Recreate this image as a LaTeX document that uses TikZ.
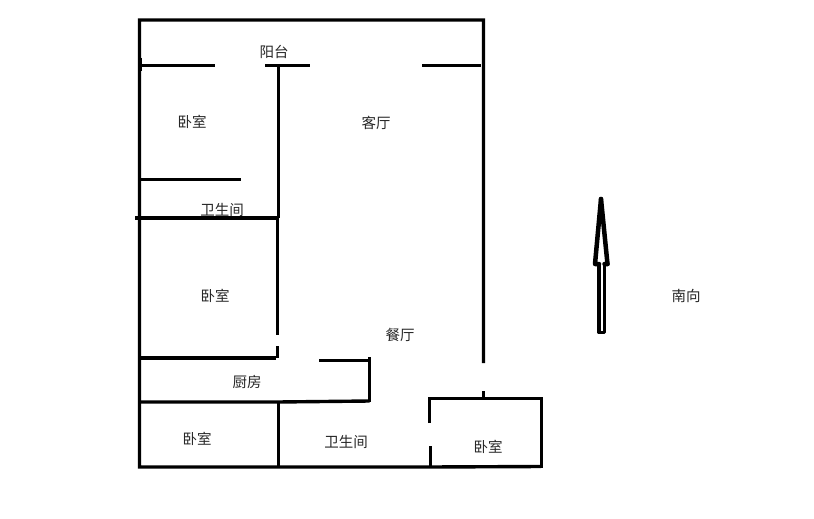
\documentclass[tikz,border=0pt]{standalone}
\usepackage{fontspec}
\newfontfamily\cjk{Noto Sans CJK SC}
\tikzset{wall/.style={draw=black,line width=3.4pt,line cap=butt},
  room/.style={font=\cjk\fontsize{14.5pt}{14.5pt}\selectfont,text=black!85,inner sep=0pt}}
\begin{document}
\begin{tikzpicture}[x=1pt,y=-1pt]
\useasboundingbox[fill=white] (0,0) rectangle (814,519);
% outer walls
\draw[wall,line join=miter] (483.5,363) -- (483.5,20) -- (139.5,20) -- (139.5,467) -- (430,467) -- (541,466.5);
\draw[wall] (483.5,391) -- (483.5,398);
% balcony line
\draw[wall] (139,65.5) -- (215,65.5);
\draw[wall] (265,65.5) -- (310,65.5);
\draw[wall] (422,65.5) -- (481,65.5);
\draw[line width=4.5pt] (140,58) -- (140,71);
% inner vertical
\draw[wall] (278.5,65) -- (278.5,218);
\draw[wall] (277.5,217) -- (277.5,335);
\draw[wall] (277.5,346) -- (277.5,358);
% left rooms
\draw[wall] (139,179.5) -- (241,179.5);
\draw[wall] (135,218) -- (279,218);
\draw[wall] (139,358) -- (276,358);
\draw[wall] (139,402) -- (278,402) -- (369.5,401);
\draw[wall] (319,360.5) -- (369.5,360.5);
\draw[wall] (369.5,357) -- (369.5,402);
\draw[wall] (278.5,401) -- (278.5,467);
% lower right room
\draw[wall,line join=miter] (429.5,423) -- (429.5,398.5) -- (541.5,398.5) -- (541.5,468);
\draw[wall] (430.5,446) -- (430.5,467);
% arrow
\draw[line width=3.5pt,line join=round,line cap=round] (599,264.5) -- (599,332.5) -- (604.5,332.5) -- (604.5,264.5);
\draw[line width=4.5pt,line join=round,line cap=round] (601,199) -- (595,264) -- (599,264) (604.5,264) -- (607.5,264) -- cycle;
\draw[line width=4.5pt,line cap=round] (601,199) -- (607.5,264);
% labels
\node[room] (a) at (274,51.5) {\cjk 阳台};
\node[room] (b) at (192,121.5) {\cjk 卧室};
\node[room] (c) at (376,122.5) {\cjk 客厅};
\node[room] (d) at (222,209.5) {\cjk 卫生间};
\node[room] (e) at (215,295.5) {\cjk 卧室};
\node[room] (f) at (400,334.5) {\cjk 餐厅};
\node[room] (g) at (247,381.5) {\cjk 厨房};
\node[room] (h) at (197,438.5) {\cjk 卧室};
\node[room] (i) at (346,441.5) {\cjk 卫生间};
\node[room] (j) at (488,446.5) {\cjk 卧室};
\node[room] (k) at (686,295.5) {\cjk 南向};
\end{tikzpicture}
\end{document}
